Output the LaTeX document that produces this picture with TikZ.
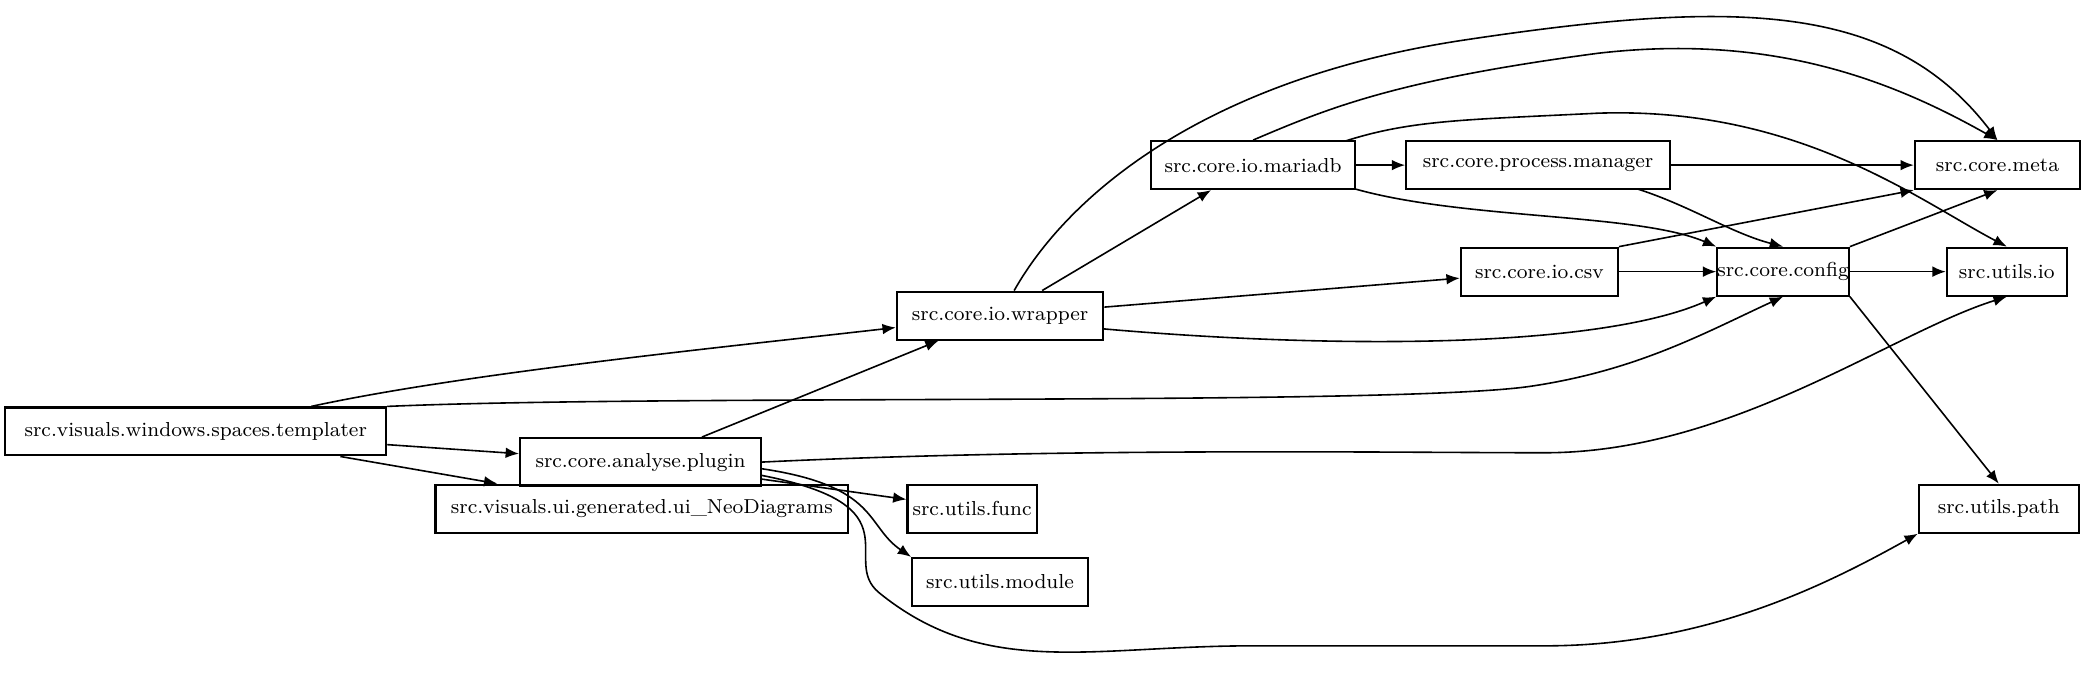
\documentclass[tikz,border=0pt]{standalone}
\usetikzlibrary{arrows.meta}
\begin{document}
\begin{tikzpicture}[x=0.5pt,y=-0.5pt,
 box/.style={draw,thick,minimum height=18pt,inner sep=0pt,font=\fontsize{7.6}{9}\selectfont},
 e/.style={-{Latex[length=5pt,width=4pt]},semithick}]
\useasboundingbox (0,0) rectangle (1568,508);
\node[box,minimum width=143pt] (tpl) at (147,324) {src.visuals.windows.spaces.templater};
\node[box,minimum width=90.5pt] (plg) at (481,347) {src.core.analyse.plugin};
\node[box,minimum width=155pt] (ui) at (482,382) {src.visuals.ui.generated.ui\_NeoDiagrams};
\node[box,minimum width=77.5pt] (wr) at (751,237) {src.core.io.wrapper};
\node[box,minimum width=76.5pt] (mdb) at (941,124) {src.core.io.mariadb};
\node[box,minimum width=99pt] (pm) at (1155,124) {src.core.process.manager};
\node[box,minimum width=59pt] (csv) at (1156,204) {src.core.io.csv};
\node[box,minimum width=46pt] (cfg) at (1339,204) {src.core.config};
\node[box,minimum width=62pt] (meta) at (1500,124) {src.core.meta};
\node[box,minimum width=45pt] (uio) at (1507,204) {src.utils.io};
\node[box,minimum width=60pt] (path) at (1501,382) {src.utils.path};
\node[box,minimum width=48.5pt] (func) at (730,382) {src.utils.func};
\node[box,minimum width=66pt] (mod) at (751,437) {src.utils.module};
% templater
\draw[e] (tpl) .. controls (350,280) and (550,260) .. (wr);
\draw[e] (tpl.north east) .. controls (500,296) and (1050,305) .. (1150,290) .. controls (1230,278) and (1280,250) .. (cfg.south);
\draw[e] (tpl) -- (plg);
\draw[e] (tpl) -- (ui);
% plugin
\draw[e] (plg) -- (wr);
\draw[e] (plg.east) .. controls (800,336) and (1050,340) .. (1160,340) .. controls (1300,340) and (1420,250) .. (uio.south);
\draw[e] (plg) -- (func);
\draw[e] (572,352) .. controls (660,365) and (650,395) .. (mod.north west);
\draw[e] (572,357) .. controls (690,380) and (630,420) .. (660,445) .. controls (740,510) and (820,485) .. (940,485) -- (1160,485) .. controls (1280,485) and (1370,440) .. (path.south west);
% wrapper
\draw[e] (wr) .. controls (800,150) and (900,60) .. (1100,30) .. controls (1300,0) and (1420,0) .. (meta.north);
\draw[e] (wr) -- (mdb);
\draw[e] (wr) -- (csv);
\draw[e] (829,247) .. controls (1000,262) and (1200,262) .. (cfg.south west);
% mariadb
\draw[e] (mdb.north) .. controls (1000,80) and (1050,60) .. (1200,40) .. controls (1330,25) and (1420,60) .. (meta.north);
\draw[e] (1010,106) .. controls (1060,90) and (1100,90) .. (1200,85) .. controls (1350,80) and (1440,150) .. (uio.north);
\draw[e] (mdb) -- (pm);
\draw[e] (1018,142) .. controls (1100,165) and (1230,160) .. (cfg.north west);
% pm
\draw[e] (pm) -- (meta);
\draw[e] (1230,142) .. controls (1270,155) and (1300,175) .. (cfg.north);
% csv
\draw[e] (csv.north east) -- (meta.south west);
\draw[e] (csv) -- (cfg);
% config
\draw[e] (cfg.north east) -- (meta.south);
\draw[e] (cfg) -- (uio);
\draw[e] (cfg.south east) -- (path.north);
\end{tikzpicture}
\end{document}
